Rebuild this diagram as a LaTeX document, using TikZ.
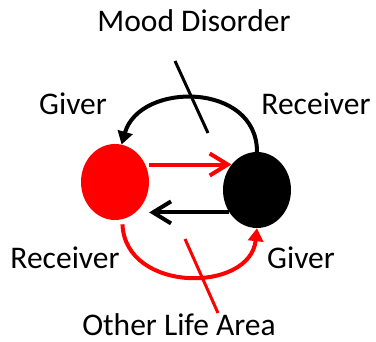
\documentclass[tikz,border=0pt]{standalone}
\usepackage{fontspec}
\setmainfont{Carlito}
\usetikzlibrary{shapes.geometric,arrows.meta,calc}
\begin{document}
\begin{tikzpicture}[x=1pt,y=-1pt,
  lbl/.style={anchor=base,inner sep=0pt,font=\fontsize{31.5}{36}\selectfont},
  blob/.style={ellipse,minimum width=68pt,minimum height=76pt,inner sep=0pt},
  straightarr/.style={line width=4pt,-{Straight Barb[length=18pt,width=22pt,line width=4pt]}},
  curvearr/.style={line width=4pt,-{Triangle[length=13pt,width=15pt]}},
  slash/.style={line width=3pt}]
\useasboundingbox (0,0) rectangle (376,342);
\node[blob,fill=red] (red) at (115,182) {};
\node[blob,fill=black] (blk) at (257,190) {};
% straight arrows
\draw[straightarr,red] (red.east |- blk.135) -- (blk.135);
\draw[straightarr,black] (blk.219) -- (blk.219 -| red.east);
% curved arrows
\draw[curvearr,black] (blk.north) .. controls +(0,-70) and +(18,-63) .. (red.80);
\draw[curvearr,red,shorten <=5pt] (red.-79) .. controls +(3,74) and +(-7,65) .. (blk.south);
% slashes
\coordinate (m1) at (175,61);
\coordinate (m2) at (208,133);
\coordinate (o1) at (185,239);
\coordinate (o2) at (218,313);
\draw[slash,black] (m1) -- (m2);
\draw[slash,red] (o1) -- (o2);
% labels
\node[lbl] (mood) at (194,32) {Mood Disorder};
\node[lbl] (g1) at (73,115) {Giver};
\node[lbl] (r1) at (316,115) {Receiver};
\node[lbl] (r2) at (65,269) {Receiver};
\node[lbl] (g2) at (301,269) {Giver};
\node[lbl] (other) at (179,336) {Other Life Area};
\end{tikzpicture}
\end{document}
